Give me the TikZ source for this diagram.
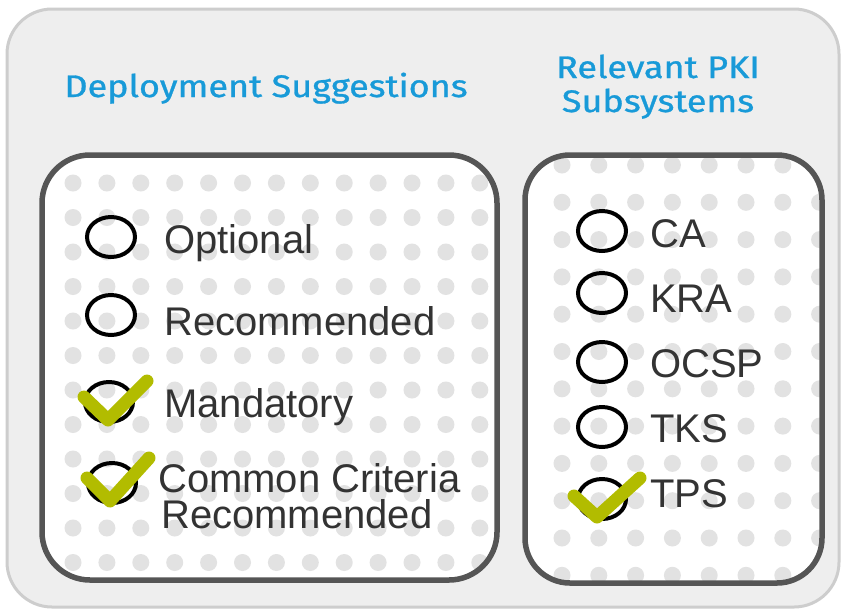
\documentclass[tikz,border=0pt]{standalone}
\usepackage{fontspec}
\setmainfont{Liberation Sans}
\newfontfamily\titlefont[FakeBold=0.9]{Fira Sans}
\usetikzlibrary{shapes.geometric}
\definecolor{titleblue}{RGB}{24,154,216}
\definecolor{txt}{RGB}{51,51,51}
\definecolor{chk}{RGB}{178,188,0}
\definecolor{dotc}{RGB}{226,226,226}
\definecolor{outerfill}{RGB}{238,238,238}
\definecolor{outerline}{RGB}{205,205,205}
\definecolor{boxline}{RGB}{85,85,85}
\newcommand{\wide}[1]{\scalebox{1.2}[1.04]{#1}}
\begin{document}
\begin{tikzpicture}[x=1pt,y=-1pt,
 radio/.style={ellipse,draw=black,line width=4pt,minimum width=48pt,minimum height=40pt,inner sep=0pt},
 item/.style={anchor=base west,text=txt,font=\fontsize{40}{35}\selectfont,inner sep=0pt},
 title/.style={anchor=base,text=titleblue,font=\titlefont\fontsize{30}{36}\selectfont,inner sep=0pt},
 checkmark/.style={draw=chk,line width=13pt,line cap=round,line join=round},
 panel/.style={draw=boxline,line width=5.5pt,rounded corners=48pt},
 dot/.style={fill=dotc}]
\useasboundingbox (0,0) rectangle (842,611);
% outer panel
\draw[fill=outerfill,draw=outerline,line width=3pt,rounded corners=45pt] (7,9) rectangle (839,607);
% titles
\node[title] (t1) at (266,97) {\wide{Deployment Suggestions}};
\node[title] (t2) at (658,78) {\wide{Relevant PKI}};
\node[title] (t3) at (658,112) {\wide{Subsystems}};
% left box
\begin{scope}
\clip[rounded corners=48pt] (42,155) rectangle (497,580);
\fill[white] (42,155) rectangle (497,580);
\foreach \i in {0,...,12} \foreach \j in {0,...,11} \fill[dot] (73+33.9*\i,183+34.5*\j) circle (8.5);
\end{scope}
\draw[panel] (42,155) rectangle (497,580);
% right box
\begin{scope}
\clip[rounded corners=45pt] (525,155) rectangle (822,583);
\fill[white] (525,155) rectangle (822,583);
\foreach \i in {0,...,7} \foreach \j in {0,...,11} \fill[dot] (562+36.8*\i,165+37.3*\j) circle (8.5);
\end{scope}
\draw[panel,rounded corners=45pt] (525,155) rectangle (822,583);
% left items
\node[radio] (r1) at (111,237) {};
\node[radio] (r2) at (111,315) {};
\node[radio] (r3) at (109,402) {};
\node[radio] (r4) at (112,483) {};
\node[item] (l1) at (164,253) {Optional};
\node[item] (l2) at (164,335) {Recommended};
\node[item] (l3) at (164,417) {Mandatory};
\node[item] (l4) at (158,492) {Common Criteria};
\node[item] (l5) at (161,528) {Recommended};
\draw[checkmark] (84,397) -- (108,420) -- (147,381);
\draw[checkmark] (87,478) -- (110,501) -- (149,458);
% right items
\node[radio] (s1) at (602,231) {};
\node[radio] (s2) at (602,293) {};
\node[radio] (s3) at (602,362) {};
\node[radio] (s4) at (602,427) {};
\node[radio] (s5) at (602,499) {};
\node[item] (c1) at (650,247) {CA};
\node[item] (c2) at (650,312) {KRA};
\node[item] (c3) at (650,377) {OCSP};
\node[item] (c4) at (650,442) {TKS};
\node[item] (c5) at (650,507) {TPS};
\draw[checkmark] (574,496) -- (597,517) -- (640,478);
\end{tikzpicture}
\end{document}
